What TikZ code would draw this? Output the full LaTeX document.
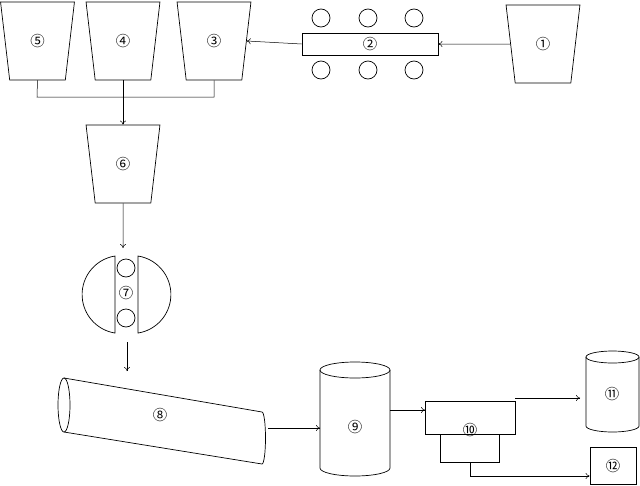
\documentclass[tikz,border=0pt]{standalone}
\usepackage{fontspec}
\newfontfamily\cjk{Noto Sans CJK SC}
\usetikzlibrary{shapes.geometric,arrows.meta}
\begin{document}
\begin{tikzpicture}[x=1pt,y=-1pt,line width=0.7pt,
  hop/.style={draw,trapezium,shape border rotate=180,trapezium stretches=true,trapezium angle=80,minimum width=74pt,minimum height=78pt,inner sep=0pt,font=\cjk\Large},
  lbl/.style={font=\cjk\Large,inner sep=0pt},
  arr/.style={-{To[length=4pt,width=6pt]},line width=0.5pt},
  ln/.style={line width=0.5pt}]
\useasboundingbox (0,0) rectangle (640,485);
% hoppers
\node[hop] (h5) at (37.5,41) {⑤};
\node[hop] (h4) at (123,41) {④};
\node[hop] (h3) at (214,41) {③};
\node[hop] (h1) at (543,44) {①};
\node[hop] (h6) at (123,164) {⑥};
% conveyor 2
\node[draw,minimum width=136pt,minimum height=22pt,inner sep=0pt,font=\cjk\Large] (c2) at (370,44) {②};
\foreach \x in {321,368,414}{\draw (\x,18) circle (9); \draw (\x,70) circle (9);}
\draw[arr] (h1.west) -- (c2.east);
\draw[arr] (c2.west) -- (h3.east);
% collector
\coordinate (b5) at (37,97); \coordinate (b3) at (214,97);
\draw[ln] (h5.south) -- (b5) -- (b3) -- (h3.south);
\draw[arr] (h4.south) -- (h6.north);
% crusher 7
\draw (115,256) arc (-99:-261:39) -- cycle;
\draw (138,256) arc (-81:81:39) -- cycle;
\draw (126,268) circle (9); \draw (126,318) circle (9);
\node[lbl] (n7) at (126,293) {⑦};
\coordinate (t7) at (123,248);
\draw[arr] (h6.south) -- (t7);
\coordinate (f7) at (127,342); \coordinate (t8) at (127,371);
\draw[arr] (f7) -- (t8);
% kiln 8
\draw (64,405) ellipse (6 and 27);
\draw (64,378) -- (262,412) arc (-90:90:3.5 and 26) -- (64,432);
\node[lbl] (n8) at (160,415) {⑧};
% cylinder 9
\draw (320,370) -- (320,468) arc (180:0:35 and 8) -- (390,370);
\draw (355,370) ellipse (35 and 8);
\node[lbl] (n9) at (355,427) {⑨};
\draw[arr] (268,428) -- (320,428);
% 10
\draw (440,434) rectangle (499,462);
\node[draw,fill=white,minimum width=90pt,minimum height=33pt,inner sep=0pt] (r10) at (470,417.5) {};
\node[lbl] (n10) at (470,430) {⑩};
\draw[arr] (390,410) -- (425,410);
% 11
\draw (586,357) -- (586,426) arc (180:0:26.5 and 6) -- (639,357);
\draw (612.5,357) ellipse (26.5 and 6);
\node[lbl] (n11) at (612,394) {⑪};
\draw[arr] (515,398) -- (580,398);
% 12
\node[draw,minimum width=46pt,minimum height=37pt,inner sep=0pt,font=\cjk\Large] (r12) at (613,466) {⑫};
\coordinate (d10) at (470,462); \coordinate (k10) at (470,476);
\draw[arr] (d10) -- (k10) -- (r12.west |- k10);
\end{tikzpicture}
\end{document}
